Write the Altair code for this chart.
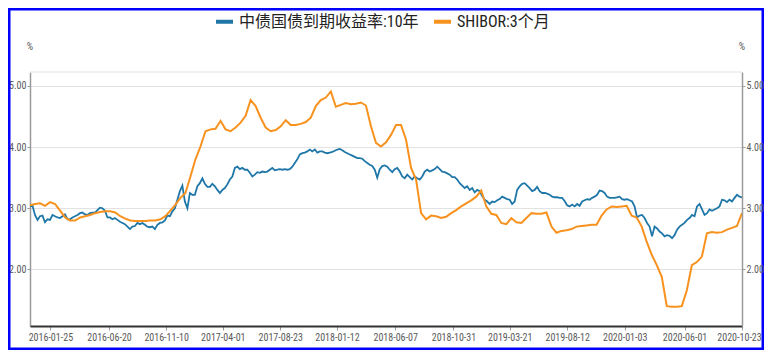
import altair as alt
import pandas as pd

# ---------------- data ----------------
START = "2015-12-05"
END = "2020-10-23"

SERIES_BOND = "中债国债到期收益率:10年"
SERIES_SHIBOR = "SHIBOR:3个月"

bond_10y = [
    3.03, 3.04, 2.89, 2.81, 2.87, 2.88, 2.77, 2.82, 2.81, 2.89,
    2.87, 2.85, 2.84, 2.87, 2.90, 2.82, 2.82, 2.85, 2.87, 2.89,
    2.92, 2.93, 2.90, 2.89, 2.92, 2.93, 2.93, 2.97, 3.01, 3.00,
    2.96, 2.85, 2.85, 2.82, 2.84, 2.81, 2.78, 2.76, 2.74, 2.70,
    2.66, 2.70, 2.71, 2.76, 2.74, 2.76, 2.73, 2.70, 2.69, 2.70,
    2.66, 2.73, 2.76, 2.77, 2.80, 2.88, 2.87, 2.95, 3.00, 3.14,
    3.28, 3.37, 3.11, 3.00, 3.25, 3.22, 3.22, 3.36, 3.41, 3.49,
    3.40, 3.35, 3.35, 3.40, 3.36, 3.30, 3.25, 3.30, 3.33, 3.39,
    3.47, 3.52, 3.66, 3.68, 3.64, 3.66, 3.63, 3.63, 3.58, 3.52,
    3.55, 3.59, 3.58, 3.60, 3.59, 3.60, 3.63, 3.66, 3.62, 3.63,
    3.64, 3.63, 3.64, 3.63, 3.64, 3.68, 3.74, 3.80, 3.88, 3.90,
    3.91, 3.93, 3.96, 3.93, 3.96, 3.91, 3.93, 3.93, 3.91, 3.90,
    3.91, 3.92, 3.94, 3.96, 3.97, 3.95, 3.92, 3.90, 3.88, 3.86,
    3.84, 3.82, 3.82, 3.81, 3.77, 3.74, 3.71, 3.69, 3.63, 3.50,
    3.64, 3.69, 3.70, 3.68, 3.63, 3.59, 3.64, 3.66, 3.60, 3.52,
    3.49, 3.55, 3.51, 3.47, 3.52, 3.49, 3.47, 3.52, 3.60, 3.63,
    3.60, 3.62, 3.64, 3.68, 3.64, 3.60, 3.59, 3.57, 3.55, 3.51,
    3.51, 3.47, 3.41, 3.37, 3.33, 3.36, 3.30, 3.33, 3.26, 3.30,
    3.28, 3.20, 3.14, 3.11, 3.07, 3.11, 3.10, 3.13, 3.15, 3.19,
    3.17, 3.15, 3.14, 3.07, 3.11, 3.30, 3.36, 3.40, 3.41, 3.37,
    3.33, 3.28, 3.30, 3.35, 3.28, 3.25, 3.25, 3.24, 3.22, 3.19,
    3.18, 3.18, 3.17, 3.17, 3.12, 3.05, 3.03, 3.06, 3.03, 3.07,
    3.04, 3.11, 3.13, 3.15, 3.14, 3.17, 3.19, 3.22, 3.29, 3.28,
    3.25, 3.19, 3.17, 3.17, 3.17, 3.18, 3.19, 3.15, 3.14, 3.15,
    3.13, 3.11, 3.03, 2.85, 2.88, 2.89, 2.84, 2.76, 2.70, 2.54,
    2.70, 2.67, 2.62, 2.59, 2.54, 2.56, 2.55, 2.51, 2.56, 2.65,
    2.70, 2.73, 2.76, 2.81, 2.84, 2.89, 2.87, 3.03, 3.07, 2.98,
    2.89, 2.92, 2.98, 2.96, 2.98, 3.00, 3.03, 3.14, 3.13, 3.10,
    3.14, 3.11, 3.17, 3.22, 3.19, 3.18,
]

shibor_3m = [
    3.05, 3.07, 3.08, 3.04, 3.10, 3.07, 2.96, 2.85, 2.80, 2.80,
    2.85, 2.87, 2.89, 2.92, 2.94, 2.95, 2.95, 2.93, 2.87, 2.83,
    2.80, 2.79, 2.79, 2.79, 2.80, 2.80, 2.82, 2.87, 2.96, 3.06,
    3.17, 3.25, 3.52, 3.80, 4.01, 4.26, 4.29, 4.30, 4.43, 4.29,
    4.26, 4.32, 4.40, 4.51, 4.77, 4.67, 4.48, 4.32, 4.26, 4.28,
    4.34, 4.44, 4.36, 4.36, 4.38, 4.41, 4.48, 4.67, 4.77, 4.81,
    4.91, 4.66, 4.69, 4.72, 4.70, 4.71, 4.73, 4.68, 4.34, 4.07,
    4.01, 4.08, 4.20, 4.36, 4.36, 4.12, 3.66, 3.47, 2.92, 2.82,
    2.88, 2.87, 2.84, 2.86, 2.92, 2.97, 3.03, 3.08, 3.13, 3.19,
    3.29, 3.03, 2.91, 2.89, 2.76, 2.74, 2.84, 2.77, 2.76, 2.84,
    2.92, 2.91, 2.91, 2.93, 2.70, 2.60, 2.63, 2.64, 2.66, 2.70,
    2.71, 2.72, 2.73, 2.73, 2.88, 2.98, 3.03, 3.02, 3.03, 3.04,
    2.88, 2.85, 2.70, 2.45, 2.24, 2.07, 1.88, 1.40, 1.39, 1.39,
    1.40, 1.66, 2.07, 2.12, 2.21, 2.59, 2.61, 2.60, 2.61, 2.65,
    2.68, 2.71, 2.92,
]

x_tick_dates = [
    "2016-01-25", "2016-06-20", "2016-11-10", "2017-04-01", "2017-08-23",
    "2018-01-12", "2018-06-07", "2018-10-31", "2019-03-21", "2019-08-12",
    "2020-01-03", "2020-06-01", "2020-10-23",
]
y_ticks = [2, 3, 4, 5]
Y_DOMAIN = [1.075, 5.228]

BLUE = "#1f77a8"
ORANGE = "#f8921f"
GRID = "#e2e2e2"
AXIS_GREY = "#9a9a9a"
LABEL_GREY = "#5a5a5a"
NARROW = "Roboto Condensed, Roboto, sans-serif"
LEGEND_FONT = "Roboto Condensed, Noto Sans CJK SC, sans-serif"


def dt(s):
    y, m, d = (int(p) for p in s.split("-"))
    return alt.DateTime(year=y, month=m, date=d)


bond_dates = pd.date_range(START, END, periods=len(bond_10y))
shibor_dates = pd.date_range(START, END, periods=len(shibor_3m))

df_bond = pd.DataFrame({"date": bond_dates, "value": bond_10y, "series": SERIES_BOND})
df_shibor = pd.DataFrame({"date": shibor_dates, "value": shibor_3m, "series": SERIES_SHIBOR})

W, H = 712, 254

x_enc = alt.X(
    "date:T",
    scale=alt.Scale(domain=[dt(START), dt(END)]),
    axis=alt.Axis(
        values=[dt(s) for s in x_tick_dates],
        format="%Y-%m-%d",
        title=None,
        grid=False,
        domainColor="#333333",
        domainWidth=2,
        tickColor=AXIS_GREY,
        tickSize=4,
        labelFont=NARROW,
        labelFontSize=10,
        labelColor=LABEL_GREY,
        labelPadding=2,
        labelFlush=False,
        labelOverlap=False,
        labelBound=False,
        labelOffset={"condition": {"test": "datum.index === 1", "value": -3}, "value": 0},
        zindex=1,
    ),
)

color_enc = alt.Color(
    "series:N",
    scale=alt.Scale(domain=[SERIES_BOND, SERIES_SHIBOR], range=[BLUE, ORANGE]),
    legend=alt.Legend(
        title=None,
        orient="none",
        legendX=184,
        legendY=-61,
        direction="horizontal",
        symbolType="stroke",
        symbolStrokeWidth=4,
        symbolSize=289,
        labelFont=LEGEND_FONT,
        labelFontSize=16,
        labelColor="#222222",
        labelOffset=4,
        labelLimit=400,
        columnPadding=7,
        padding=0,
    ),
)

y_axis_common = dict(
    values=y_ticks,
    format=".2f",
    title=None,
    domainColor=AXIS_GREY,
    domainWidth=1.5,
    tickColor=AXIS_GREY,
    tickSize=3,
    labelFont=NARROW,
    labelFontSize=10,
    labelColor=LABEL_GREY,
    labelPadding=1,
)

bond_line = alt.Chart(df_bond).mark_line(strokeWidth=1.8).encode(
    x=x_enc,
    y=alt.Y(
        "value:Q",
        scale=alt.Scale(domain=Y_DOMAIN, nice=False, zero=False),
        axis=alt.Axis(orient="left", grid=True, gridColor=GRID, gridWidth=1.2, **y_axis_common),
    ),
    color=color_enc,
)

shibor_line = alt.Chart(df_shibor).mark_line(strokeWidth=2).encode(
    x=x_enc,
    y=alt.Y(
        "value:Q",
        scale=alt.Scale(domain=Y_DOMAIN, nice=False, zero=False),
        axis=alt.Axis(orient="right", grid=False, zindex=1, **y_axis_common),
    ),
    color=color_enc,
)

one = pd.DataFrame({"t": ["%"]})

top_rule = alt.Chart(one).mark_rule(color=GRID, strokeWidth=1.2).encode(
    x=alt.value(0), x2=alt.value(W), y=alt.value(0)
)

pct_left = alt.Chart(one).mark_text(
    font=NARROW, fontSize=10, color=LABEL_GREY, align="center", baseline="middle"
).encode(text="t:N", x=alt.value(0), y=alt.value(-25))

pct_right = alt.Chart(one).mark_text(
    font=NARROW, fontSize=10, color=LABEL_GREY, align="center", baseline="middle"
).encode(text="t:N", x=alt.value(W), y=alt.value(-25))

frame = alt.Chart(one).mark_rect(
    fillOpacity=0, stroke="#0000ff", strokeWidth=2.5
).encode(
    x=alt.value(-20.75), x2=alt.value(W + 20.75), y=alt.value(-62.75), y2=alt.value(H + 22.75)
)

chart = (
    alt.layer(frame, top_rule, bond_line, shibor_line, pct_left, pct_right)
    .resolve_scale(y="independent")
    .properties(
        width=W,
        height=H,
        autosize=alt.AutoSizeParams(type="none"),
        padding={"left": 22, "top": 64, "right": 22, "bottom": 24},
        background="white",
    )
    .configure_view(strokeWidth=0)
)

chart.save("out.html", embed_options={"renderer": "svg", "actions": False})
